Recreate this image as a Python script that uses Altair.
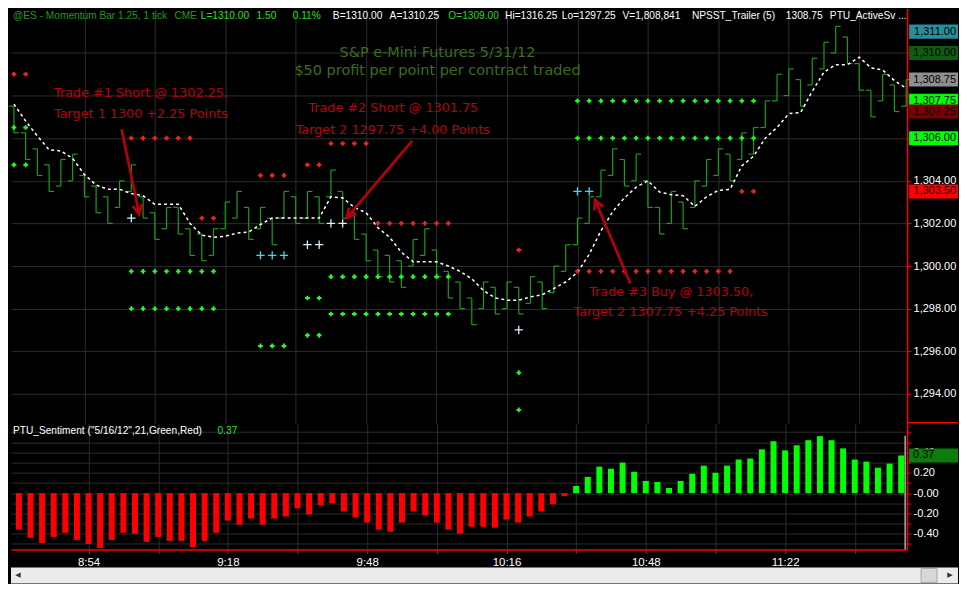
import math
import altair as alt
import pandas as pd

# ---------------- values ----------------
bar_low = [1306.25, 1305.0, 1304.25, 1303.5, 1303.75, 1304.0, 1303.25, 1302.5, 1302.0, 1302.75,
           1303.5, 1302.25, 1301.25, 1301.75, 1301.5, 1300.5, 1300.25, 1300.5, 1301.75, 1302.25,
           1301.25, 1301.75, 1301.0, 1302.25, 1302.0, 1302.25, 1302.0, 1303.25, 1302.25, 1301.25,
           1300.25, 1299.5, 1299.25, 1299.0, 1300.0, 1300.5, 1299.5, 1298.5, 1298.0, 1297.25,
           1298.0, 1297.75, 1298.0, 1297.75, 1298.25, 1298.0, 1298.75, 1299.75, 1301.0, 1302.0,
           1303.25, 1304.25, 1303.75, 1304.0, 1302.75, 1301.5, 1302.0, 1301.75, 1302.75, 1303.75,
           1304.25, 1304.0, 1305.0, 1305.25, 1306.5, 1307.75, 1308.0, 1307.5, 1308.5, 1309.25,
           1310.0, 1309.5, 1308.25, 1307.0, 1307.75, 1307.25, 1307.5]
bar_high = [1307.5, 1306.25, 1305.5, 1304.75, 1305.0, 1305.25, 1304.25, 1303.75, 1303.25, 1304.0,
            1304.75, 1303.25, 1302.5, 1302.75, 1302.75, 1301.75, 1301.5, 1301.75, 1303.0, 1303.5,
            1302.75, 1302.75, 1302.25, 1303.5, 1303.25, 1303.5, 1303.25, 1304.5, 1303.5, 1302.5,
            1301.5, 1300.75, 1300.5, 1300.25, 1301.25, 1301.75, 1300.75, 1299.75, 1299.25, 1298.5,
            1299.25, 1299.0, 1299.25, 1299.0, 1299.5, 1299.25, 1300.0, 1301.0, 1302.25, 1303.25,
            1304.5, 1305.5, 1305.0, 1305.25, 1304.0, 1302.75, 1303.5, 1303.0, 1304.0, 1305.0,
            1305.5, 1305.25, 1306.25, 1306.5, 1307.75, 1309.0, 1309.25, 1308.75, 1309.75, 1310.5,
            1311.25, 1310.75, 1309.5, 1308.25, 1309.0, 1308.5, 1308.75]
bar_open = [1307.5, 1306.25, 1305.5, 1304.75, 1303.75, 1304.0, 1304.25, 1303.75, 1303.25, 1302.75,
            1303.5, 1303.25, 1302.5, 1301.75, 1302.75, 1301.75, 1301.5, 1300.5, 1301.75, 1302.25,
            1302.75, 1301.75, 1302.25, 1302.25, 1303.25, 1302.25, 1303.25, 1303.25, 1303.5, 1302.5,
            1301.5, 1300.75, 1300.5, 1300.25, 1300.0, 1300.5, 1300.75, 1299.75, 1299.25, 1298.5,
            1298.0, 1299.0, 1298.0, 1299.0, 1298.25, 1299.25, 1298.75, 1299.75, 1301.0, 1302.0,
            1303.25, 1304.25, 1305.0, 1304.0, 1304.0, 1302.75, 1302.0, 1303.0, 1302.75, 1303.75,
            1304.25, 1305.25, 1305.0, 1305.25, 1306.5, 1307.75, 1308.0, 1308.75, 1308.5, 1309.25,
            1310.0, 1310.75, 1309.5, 1308.25, 1307.75, 1308.5, 1307.5]
bar_close = [1306.25, 1305.0, 1304.25, 1303.5, 1305.0, 1305.25, 1303.25, 1302.5, 1302.0, 1304.0,
             1304.75, 1302.25, 1301.25, 1302.75, 1301.5, 1300.5, 1300.25, 1301.75, 1303.0, 1303.5,
             1301.25, 1302.75, 1301.0, 1303.5, 1302.0, 1303.5, 1302.0, 1304.5, 1302.25, 1301.25,
             1300.25, 1299.5, 1299.25, 1299.0, 1301.25, 1301.75, 1299.5, 1298.5, 1298.0, 1297.25,
             1299.25, 1297.75, 1299.25, 1297.75, 1299.5, 1298.0, 1300.0, 1301.0, 1302.25, 1303.25,
             1304.5, 1305.5, 1303.75, 1305.25, 1302.75, 1301.5, 1303.5, 1301.75, 1304.0, 1305.0,
             1305.5, 1304.0, 1306.25, 1306.5, 1307.75, 1309.0, 1309.25, 1307.5, 1309.75, 1310.5,
             1311.25, 1309.5, 1308.25, 1307.0, 1309.0, 1307.25, 1308.75]
trailer = [1307.6, 1306.8, 1306.1, 1305.45, 1305.4, 1305.05, 1304.3, 1303.8, 1303.6, 1303.6,
           1303.4, 1303.3, 1302.9, 1302.9, 1302.9, 1302.0, 1301.45, 1301.35, 1301.4, 1301.55,
           1301.6, 1301.95, 1302.25, 1302.25, 1302.25, 1302.25, 1302.25, 1303.25, 1303.2, 1302.75,
           1302.5, 1301.8, 1301.35, 1300.65, 1300.2, 1300.2, 1300.2, 1300.0, 1299.75, 1299.4,
           1298.85, 1298.5, 1298.4, 1298.4, 1298.55, 1298.65, 1298.95, 1299.25, 1299.7, 1300.55,
           1301.65, 1302.55, 1303.2, 1303.7, 1304.0, 1303.47, 1303.35, 1303.3, 1302.8, 1303.25,
           1303.55, 1303.6, 1304.7, 1305.15, 1306.0, 1306.5, 1307.15, 1307.2, 1308.2, 1309.1,
           1309.45, 1309.45, 1309.8, 1309.3, 1309.2, 1308.7, 1308.35]
sentiment = [-0.36, -0.44, -0.49, -0.43, -0.39, -0.46, -0.50, -0.54, -0.46, -0.39,
             -0.40, -0.48, -0.43, -0.47, -0.47, -0.53, -0.47, -0.39, -0.27, -0.31,
             -0.25, -0.31, -0.25, -0.23, -0.15, -0.21, -0.12, -0.10, -0.18, -0.24,
             -0.29, -0.36, -0.38, -0.29, -0.18, -0.22, -0.29, -0.36, -0.40, -0.33,
             -0.33, -0.34, -0.26, -0.29, -0.23, -0.18, -0.11, -0.03, 0.07, 0.16,
             0.26, 0.24, 0.30, 0.21, 0.12, 0.11, 0.05, 0.12, 0.19, 0.27,
             0.20, 0.27, 0.33, 0.34, 0.43, 0.51, 0.42, 0.47, 0.52, 0.56,
             0.52, 0.44, 0.33, 0.31, 0.25, 0.29, 0.37]

red_dot_i = [0, 1,
             10, 11, 12, 13, 14, 15,
             16, 17,
             21, 22, 23,
             25, 26,
             27, 28, 29, 30,
             31, 32, 33, 34, 35, 36, 37,
             43,
             48, 49, 50, 51, 52, 53, 54, 55, 56, 57, 58, 59, 60, 61,
             62, 63]
red_dot_p = [1309.0, 1309.0,
             1306.0, 1306.0, 1306.0, 1306.0, 1306.0, 1306.0,
             1302.25, 1302.25,
             1304.25, 1304.25, 1304.25,
             1304.75, 1304.75,
             1305.75, 1305.75, 1305.75, 1305.75,
             1302.0, 1302.0, 1302.0, 1302.0, 1302.0, 1302.0, 1302.0,
             1300.75,
             1299.75, 1299.75, 1299.75, 1299.75, 1299.75, 1299.75, 1299.75,
             1299.75, 1299.75, 1299.75, 1299.75, 1299.75, 1299.75, 1299.75,
             1303.5, 1303.5]
green_dot_i = [0, 1, 0, 1,
               10, 11, 12, 13, 14, 15, 16, 17,
               10, 11, 12, 13, 14, 15, 16, 17,
               21, 22, 23,
               25, 26, 25, 26,
               27, 28, 29, 30, 31, 32, 33, 34, 35, 36, 37,
               27, 28, 29, 30, 31, 32, 33, 34, 35, 36, 37,
               43, 43,
               48, 49, 50, 51, 52, 53, 54, 55, 56, 57, 58, 59, 60, 61, 62, 63,
               48, 49, 50, 51, 52, 53, 54, 55, 56, 57, 58, 59, 60, 61, 62, 63]
green_dot_p = [1306.5, 1306.5, 1304.75, 1304.75,
               1299.75, 1299.75, 1299.75, 1299.75, 1299.75, 1299.75, 1299.75, 1299.75,
               1298.0, 1298.0, 1298.0, 1298.0, 1298.0, 1298.0, 1298.0, 1298.0,
               1296.25, 1296.25, 1296.25,
               1298.5, 1298.5, 1296.75, 1296.75,
               1299.5, 1299.5, 1299.5, 1299.5, 1299.5, 1299.5, 1299.5, 1299.5, 1299.5, 1299.5, 1299.5,
               1297.75, 1297.75, 1297.75, 1297.75, 1297.75, 1297.75, 1297.75, 1297.75, 1297.75, 1297.75, 1297.75,
               1295.0, 1293.25,
               1307.75, 1307.75, 1307.75, 1307.75, 1307.75, 1307.75, 1307.75, 1307.75,
               1307.75, 1307.75, 1307.75, 1307.75, 1307.75, 1307.75, 1307.75, 1307.75,
               1306.0, 1306.0, 1306.0, 1306.0, 1306.0, 1306.0, 1306.0, 1306.0,
               1306.0, 1306.0, 1306.0, 1306.0, 1306.0, 1306.0, 1306.0, 1306.0]
pale_cross_i = [10, 25, 26, 27, 28, 43]
pale_cross_p = [1302.25, 1301.0, 1301.0, 1302.0, 1302.0, 1297.0]
cyan_cross_i = [21, 22, 23, 48, 49]
cyan_cross_p = [1300.5, 1300.5, 1300.5, 1303.5, 1303.5]

time_tick_i = [6, 18, 30, 42, 54, 66]
time_labels = ["8:54", "9:18", "9:48", "10:16", "10:48", "11:22"]

marker_prices = [1311.00, 1310.00, 1308.75, 1307.75, 1307.25, 1306.00, 1303.50]
sentiment_last = 0.37

header_texts = ["@ES - Momentum Bar 1.25, 1 tick", "CME", "L=1310.00", "1.50", "0.11%",
                "B=1310.00", "A=1310.25", "O=1309.00", "Hi=1316.25", "Lo=1297.25",
                "V=1,808,841", "NPSST_Trailer (5)", "1308.75", "PTU_ActiveSv ..."]
title_lines = ["S&P e-Mini Futures 5/31/12", "$50 profit per point per contract traded"]
trade_texts = ["Trade #1 Short @ 1302.25,", "Target 1 1300 +2.25 Points",
               "Trade #2 Short @ 1301.75", "Target 2 1297.75 +4.00 Points",
               "Trade #3 Buy @ 1303.50,", "Target 2 1307.75 +4.25 Points"]
sent_header = ['PTU_Sentiment ("5/16/12",21,Green,Red)', "0.37"]

# ---------------- layout and style ----------------
W, H1, H2 = 898, 416, 126
XDOM = [-0.25, 76.08]
PDOM = [1292.6, 1312.08]
SDOM = [-0.554, 0.682]
KX = W / (XDOM[1] - XDOM[0])
KY = H1 / (PDOM[1] - PDOM[0])

BAR_C = "#1c9c1c"
GRID_C = "#2c2c2c"
ANN_C = "#b8000f"
RED = "#ff0000"
FONT = "Liberation Sans"
HEAD_FS = 10.2

grid_idx = [6, 12, 18, 24, 30, 36, 42, 48, 54, 60, 66, 72]
price_grid = [1294, 1296, 1298, 1300, 1302, 1304, 1306, 1308, 1310]
sent_grid = [-0.5, -0.4, -0.3, -0.2, -0.1, 0.0, 0.1, 0.2, 0.3, 0.4, 0.5, 0.6]

header_ref_x = [2, 167, 194, 251, 288, 329, 387, 447, 505, 563, 625, 696, 792, 837]
header_colors = ["#1c9c1c", "#1c9c1c", "#22e022", "#22e022", "#22e022", "#ffffff", "#ffffff",
                 "#22d822", "#ffffff", "#ffffff", "#ffffff", "#ffffff", "#ffffff", "#ffffff"]
title_anchor = [(36.08, 1309.99), (36.08, 1309.13)]
trade_anchor = [(3.42, 1308.14), (3.42, 1307.14), (25.08, 1307.41), (24.0, 1306.37),
                (49.0, 1298.8), (47.67, 1297.85)]
arrow_from = [(9.17, 1306.42), (33.92, 1305.87), (52.5, 1299.18)]
arrow_to = [(10.67, 1302.43), (28.33, 1302.25), (49.5, 1303.1)]
marker_colors = ["#23909c", "#0e5c12", "#8f8f8f", "#00ff00", "#7d0000", "#00ff00", "#ff0000"]

one = pd.DataFrame({"z": [0]})

# ---------------- tables ----------------
n = len(bar_low)
bars = pd.DataFrame({"i": list(range(n)), "low": bar_low, "high": bar_high,
                     "open": bar_open, "close": bar_close, "trailer": trailer,
                     "v": sentiment})
red_df = pd.DataFrame({"i": red_dot_i, "p": red_dot_p})
green_df = pd.DataFrame({"i": green_dot_i, "p": green_dot_p})
pale_df = pd.DataFrame({"i": pale_cross_i, "p": pale_cross_p})
cyan_df = pd.DataFrame({"i": cyan_cross_i, "p": cyan_cross_p})
header_df = pd.DataFrame({"t": header_texts, "i": [x / 12.0 - 0.25 for x in header_ref_x],
                          "c": header_colors})
title_df = pd.DataFrame({"t": title_lines, "i": [a[0] for a in title_anchor],
                         "p": [a[1] for a in title_anchor]})
trade_df = pd.DataFrame({"t": trade_texts, "i": [a[0] for a in trade_anchor],
                         "p": [a[1] for a in trade_anchor]})
angles = []
for (i0, p0), (i1, p1) in zip(arrow_from, arrow_to):
    ang = math.degrees(math.atan2((i1 - i0) * KX, (p1 - p0) * KY)) % 360
    angles.append(ang)
arrow_df = pd.DataFrame({"i0": [a[0] for a in arrow_from], "p0": [a[1] for a in arrow_from],
                         "i1": [a[0] for a in arrow_to], "p1": [a[1] for a in arrow_to],
                         "ang": angles})
marker_df = pd.DataFrame({"p": marker_prices, "c": marker_colors,
                          "lab": [f"{p:,.2f}" for p in marker_prices]})
marker_df["lo"] = marker_df["p"] - 0.33
marker_df["hi"] = marker_df["p"] + 0.33
last_df = pd.DataFrame({"v": [sentiment_last], "lo": [sentiment_last - 0.068],
                        "hi": [sentiment_last + 0.068], "lab": [f"{sentiment_last:.2f}"]})

# ---------------- scales and axes ----------------
xs = alt.Scale(domain=XDOM, nice=False, zero=False)
ps = alt.Scale(domain=PDOM, nice=False, zero=False)
ss = alt.Scale(domain=SDOM, nice=False, zero=False)

x_axis_top = alt.Axis(values=grid_idx, grid=True, gridColor=GRID_C, labels=False,
                      ticks=False, domain=False, title=None)
y_axis_top = alt.Axis(orient="right", values=price_grid, grid=True, gridColor=GRID_C,
                      labelExpr="datum.value > 1305 ? '' : format(datum.value, ',.2f')",
                      labelColor="white", labelFont=FONT, labelFontSize=11,
                      tickColor=RED, tickSize=4, domainColor=RED, domainWidth=1.5,
                      labelPadding=2, title=None)
x_label_expr = "".join(f"datum.value == {t} ? '{lab}' : " for t, lab in zip(time_tick_i, time_labels)) + "''"
x_axis_bot = alt.Axis(values=grid_idx, grid=True, gridColor=GRID_C, labelExpr=x_label_expr,
                      labelColor="white", labelFont=FONT, labelFontSize=11.5, labelPadding=3,
                      tickColor=RED, tickSize=4, domainColor=RED, domainWidth=1.5,
                      labelFlush=False, title=None)
y_axis_bot = alt.Axis(orient="right", values=sent_grid, grid=True, gridColor=GRID_C,
                      labelExpr="abs(datum.value) < 0.001 ? '-0.00' : "
                                "((abs(round(datum.value * 10)) % 2 == 0 && abs(datum.value) < 0.45) ? "
                                "((datum.value < 0 ? '-' : '') + format(abs(datum.value), '.2f')) : '')",
                      labelColor="white", labelFont=FONT, labelFontSize=11,
                      tickColor=RED, tickSize=4, domainColor=RED, domainWidth=1.5,
                      labelPadding=2, title=None)


def XT(f):
    return alt.X(f, type="quantitative", scale=xs, axis=x_axis_top, title=None)


def PY(f):
    return alt.Y(f, type="quantitative", scale=ps, axis=y_axis_top, title=None)


def XB(f):
    return alt.X(f, type="quantitative", scale=xs, axis=x_axis_bot, title=None)


def SY(f):
    return alt.Y(f, type="quantitative", scale=ss, axis=y_axis_bot, title=None)


# ---------------- top panel ----------------
base = alt.Chart(bars)
hl = base.mark_rule(color=BAR_C, strokeWidth=1.2).encode(x=XT("i"), y=PY("low"), y2="high")
op = base.transform_calculate(xo="datum.i - 0.42").mark_rule(color=BAR_C, strokeWidth=1.2).encode(
    x=XT("xo"), x2="i", y=PY("open"))
cl = base.transform_calculate(xc="datum.i + 0.42").mark_rule(color=BAR_C, strokeWidth=1.2).encode(
    x=XT("i"), x2="xc", y=PY("close"))
trail = base.mark_line(color="white", strokeDash=[3, 3], strokeWidth=1.5).encode(
    x=XT("i"), y=PY("trailer"))
reds = alt.Chart(red_df).mark_point(shape="cross", filled=True, size=22, color="#ff2020",
                                    opacity=1).encode(x=XT("i"), y=PY("p"))
greens = alt.Chart(green_df).mark_point(shape="cross", filled=True, size=22, color="#22ff22",
                                        opacity=1).encode(x=XT("i"), y=PY("p"))
plus_path = "M-1,0L1,0M0,-1L0,1"
pales = alt.Chart(pale_df).mark_point(shape=plus_path, filled=False, size=70, color="#d8f4ff",
                                      strokeWidth=1.3, opacity=1).encode(x=XT("i"), y=PY("p"))
cyans = alt.Chart(cyan_df).mark_point(shape=plus_path, filled=False, size=70, color="#33ddff",
                                      strokeWidth=1.3, opacity=1).encode(x=XT("i"), y=PY("p"))
shafts = alt.Chart(arrow_df).mark_rule(color=ANN_C, strokeWidth=2.6).encode(
    x=XT("i0"), y=PY("p0"), x2="i1", y2="p1")
heads = alt.Chart(arrow_df).mark_point(shape="M-1,2L0,0L1,2", filled=False, size=90,
                                       color=ANN_C, strokeWidth=2.6, opacity=1).encode(
    x=XT("i1"), y=PY("p1"), angle=alt.Angle("ang:Q", scale=None))
trades = alt.Chart(trade_df).mark_text(align="left", baseline="middle", font="DejaVu Sans",
                                       fontSize=12.8, color=ANN_C).encode(
    x=XT("i"), y=PY("p"), text="t:N")
titles = alt.Chart(title_df).mark_text(align="center", baseline="middle", font="DejaVu Sans",
                                       fontSize=14.5, color="#3b6d1f").encode(
    x=XT("i"), y=PY("p"), text="t:N")
header = alt.Chart(header_df).mark_text(align="left", baseline="middle", font=FONT,
                                        fontSize=HEAD_FS).encode(
    x=XT("i"), y=alt.value(7), text="t:N", color=alt.Color("c:N", scale=None))
mk_box = alt.Chart(marker_df).mark_rect().encode(
    x=alt.value(W + 2), x2=alt.value(W + 51), y=PY("lo"), y2="hi",
    color=alt.Color("c:N", scale=None))
mk_txt = alt.Chart(marker_df).mark_text(align="right", baseline="middle", font=FONT,
                                        fontSize=11, color="black").encode(
    x=alt.value(W + 49), y=PY("p"), text="lab:N")
axis_sep = alt.Chart(one).mark_rule(color=RED, strokeWidth=1.5).encode(
    x=alt.value(W), x2=alt.value(W + 51), y=alt.value(H1 - 1))

top = alt.layer(hl, op, cl, trail, reds, greens, pales, cyans, shafts, heads, trades,
                titles, header, mk_box, mk_txt, axis_sep).properties(width=W, height=H1)

# ---------------- bottom panel ----------------
sbars = alt.Chart(bars).mark_bar(size=6).encode(
    x=XB("i"), y=SY("v"), y2=alt.datum(0),
    color=alt.condition("datum.v >= 0", alt.value("#00ff00"), alt.value("#ff0000")))
sh1 = alt.Chart(one).mark_text(align="left", baseline="middle", font=FONT, fontSize=HEAD_FS,
                               color="white", text=sent_header[0]).encode(
    x=alt.value(2), y=alt.value(7))
sh2 = alt.Chart(one).mark_text(align="left", baseline="middle", font=FONT, fontSize=HEAD_FS,
                               color="#22e022", text=sent_header[1]).encode(
    x=alt.value(207), y=alt.value(7))
last_box = alt.Chart(last_df).mark_rect(color="#0a7d0a").encode(
    x=alt.value(W + 2), x2=alt.value(W + 51), y=SY("lo"), y2="hi")
last_txt = alt.Chart(last_df).mark_text(align="left", baseline="middle", font=FONT,
                                        fontSize=11, color="black").encode(
    x=alt.value(W + 6), y=SY("v"), text="lab:N")
white_edge = alt.Chart(one).mark_rule(color="white", strokeWidth=1).encode(
    x=alt.value(W - 2), y=alt.value(12), y2=alt.value(H2))
scroll = alt.Chart(one).mark_rect(color="#ebebeb").encode(
    x=alt.value(0), x2=alt.value(W + 51), y=alt.value(H2 + 18), y2=alt.value(H2 + 34))
thumb = alt.Chart(one).mark_rect(color="#d8d8d8", stroke="#a8a8a8", strokeWidth=1).encode(
    x=alt.value(W + 14), x2=alt.value(W + 30), y=alt.value(H2 + 19), y2=alt.value(H2 + 33))
arr_l = alt.Chart(one).mark_text(text="◀", fontSize=7, color="#333333", font="DejaVu Sans",
                                 baseline="middle").encode(x=alt.value(7), y=alt.value(H2 + 26))
arr_r = alt.Chart(one).mark_text(text="▶", fontSize=7, color="#333333", font="DejaVu Sans",
                                 baseline="middle").encode(x=alt.value(W + 43), y=alt.value(H2 + 26))

bottom = alt.layer(sbars, white_edge, sh1, sh2, last_box, last_txt, scroll, thumb,
                   arr_l, arr_r).properties(width=W, height=H2)

chart = alt.vconcat(top, bottom, spacing=0).properties(
    background="#000000", padding=0
).configure_view(stroke=None)

chart.save("out.html", embed_options={"renderer": "svg", "actions": False})
